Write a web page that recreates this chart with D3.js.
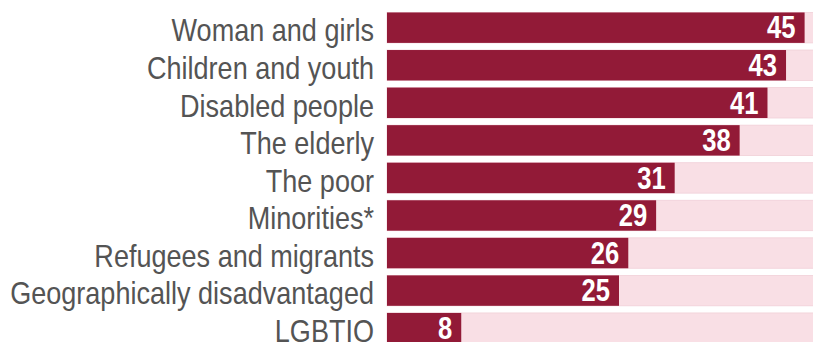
<!DOCTYPE html>
<html>
<head>
<meta charset="utf-8">
<script src="https://cdn.jsdelivr.net/npm/d3@7"></script>
<style>
  html, body { margin: 0; padding: 0; background: #ffffff; }
  svg { display: block; }
</style>
</head>
<body>
<div id="chart"></div>
<script>
const categories = [
  "Woman and girls",
  "Children and youth",
  "Disabled people",
  "The elderly",
  "The poor",
  "Minorities*",
  "Refugees and migrants",
  "Geographically disadvantaged",
  "LGBTIQ"
];
const values = [45, 43, 41, 38, 31, 29, 26, 25, 8];
const scaleMax = [50];

const W = 813, H = 342;
const svg = d3.select("#chart").append("svg")
  .attr("width", W).attr("height", H)
  .attr("viewBox", `0 0 ${W} ${H}`);

const data = categories.map((c, i) => ({ cat: c, val: values[i] }));

const x = d3.scaleLinear().domain([0, scaleMax[0]]).range([387, 851]);
const y = d3.scaleBand().domain(categories)
  .range([8.9, 8.9 + 37.56 * categories.length])
  .paddingInner(0.19).paddingOuter(0.095);

// background track
svg.append("g").selectAll("rect").data(data).join("rect")
  .attr("x", x(0))
  .attr("y", d => y(d.cat))
  .attr("width", x(scaleMax[0]) - x(0))
  .attr("height", y.bandwidth())
  .attr("fill", "#f9dfe5")
  .attr("stroke", "#f1d0d8")
  .attr("stroke-width", 0.8);

// value bars
svg.append("g").selectAll("rect").data(data).join("rect")
  .attr("x", x(0))
  .attr("y", d => y(d.cat))
  .attr("width", d => x(d.val) - x(0))
  .attr("height", y.bandwidth())
  .attr("fill", "#921a37");

// category labels
svg.append("g").selectAll("text").data(data).join("text")
  .attr("transform", d => `translate(374,${y(d.cat) + y.bandwidth() - 1.5}) scale(0.873,1)`)
  .attr("text-anchor", "end")
  .attr("font-family", "'Liberation Sans', Arial, sans-serif")
  .attr("font-size", 31)
  .attr("fill", "#545454")
  .text(d => d.cat);

// value labels
svg.append("g").selectAll("text").data(data).join("text")
  .attr("transform", d => `translate(${x(d.val) - 9},${y(d.cat) + y.bandwidth() - 4.5}) scale(0.8,1)`)
  .attr("text-anchor", "end")
  .attr("font-family", "'Liberation Sans', Arial, sans-serif")
  .attr("font-weight", "bold")
  .attr("font-size", 32)
  .attr("fill", "#ffffff")
  .text(d => d.val);
</script>
</body>
</html>
